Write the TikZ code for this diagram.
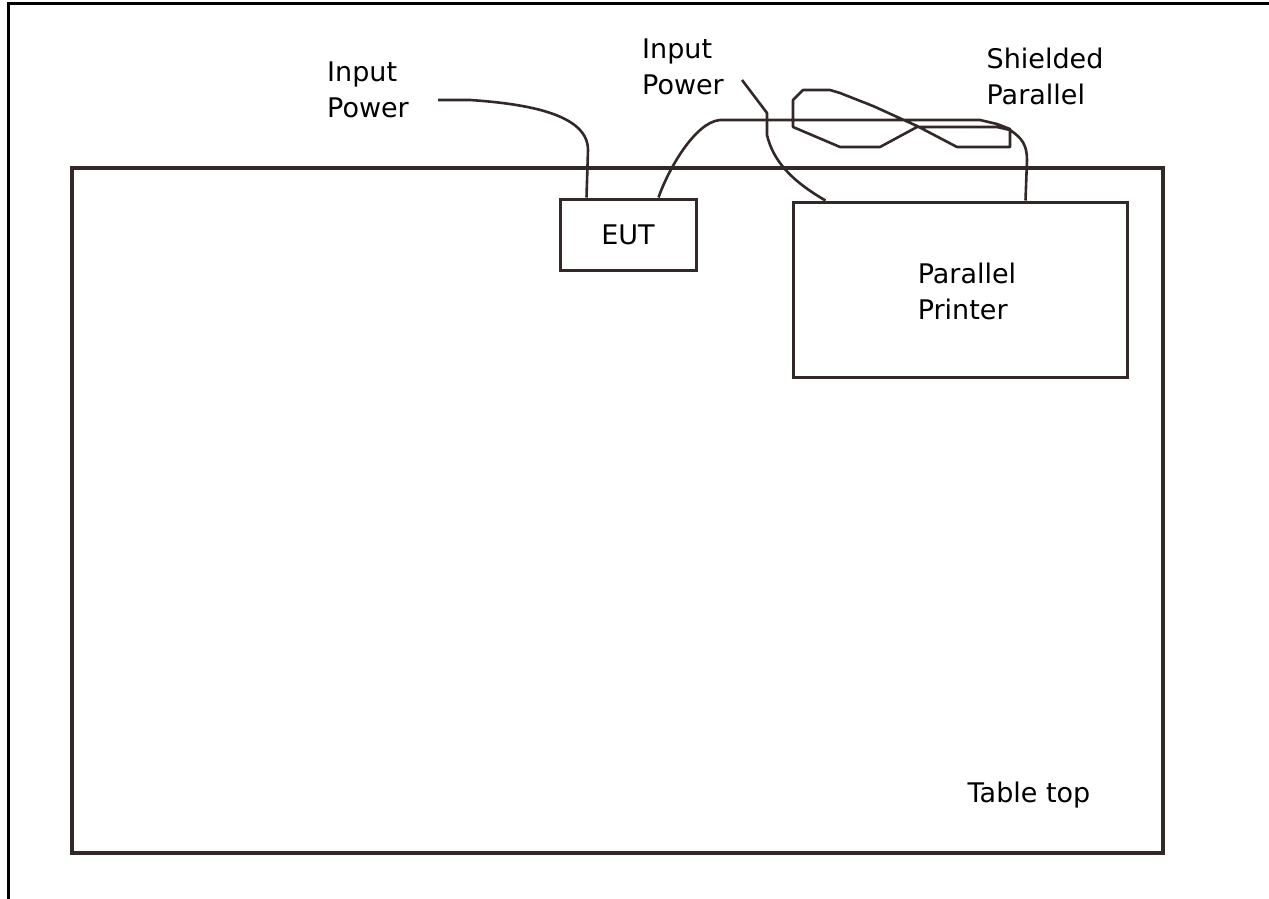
\documentclass[tikz,border=0pt]{standalone}
\usepackage{fontspec}
\setmainfont{DejaVu Sans}
\usepackage{tikz}
\usetikzlibrary{calc}
\definecolor{ink}{RGB}{50,40,40}

\begin{document}
\begin{tikzpicture}[x=1pt, y=-1pt, font=\fontsize{27}{36}\selectfont,
  box/.style={draw=ink, line width=3pt, inner sep=0pt},
  lbl/.style={align=left, inner sep=0pt, text=black},
  cable/.style={draw=ink, line width=2.6pt, line join=round}]
\useasboundingbox (0,0) rectangle (1269,899);
\draw[black, line width=3pt] (8,899) -- (8,4) -- (1269,4);
\node[box, line width=3.4pt, minimum width=1091pt, minimum height=685pt] (table) at (617.5,510.5) {};
\node[lbl, anchor=base] (tt) at (1029,802) {Table top};
\node[box, minimum width=136pt, minimum height=71pt] (eut) at (628,234.5) {EUT};
\node[box, minimum width=334pt, minimum height=175pt,
  label={[lbl, xshift=7pt, yshift=-2pt]center:Parallel\\Printer}] (prn) at (960,289.5) {};
\node[lbl] (pwa) at (368,90) {Input\\Power};
\node[lbl] (pwb) at (683,67) {Input\\Power};
\node[lbl] (shp) at (1045,76) {Shielded\\Parallel};
\coordinate (pwaend) at (438,100);
\coordinate (pwbend) at (742,80);
% power to the EUT
\draw[cable] (pwaend) -- (470,100) .. controls (530,104) and (588,115) .. (588,150) -- ($(eut.north west)+(28,0)$);
% shielded parallel cable, coiled on top
\draw[cable] ($(eut.north west)+(100,0)$) .. controls (668,170) and (695,122) .. (720,120)
  -- (980,120) -- (997,124) -- (1010,129) -- (1010,147) -- (957,147) -- (917,126) -- (873,106)
  -- (840,93) -- (830,90) -- (803,90) -- (793,100) -- (793,127) -- (840,147) -- (880,147)
  -- (917,127) -- (930,127) -- (997,127) -- (1010,130)
  .. controls (1022,138) and (1027,145) .. (1027,160) -- ($(prn.north west)+(234,0)$);
% power to the printer
\draw[cable] (pwbend) -- (767,113) -- (767,135) .. controls (773,160) and (790,180) .. ($(prn.north west)+(34,0)$);
\end{tikzpicture}
\end{document}
